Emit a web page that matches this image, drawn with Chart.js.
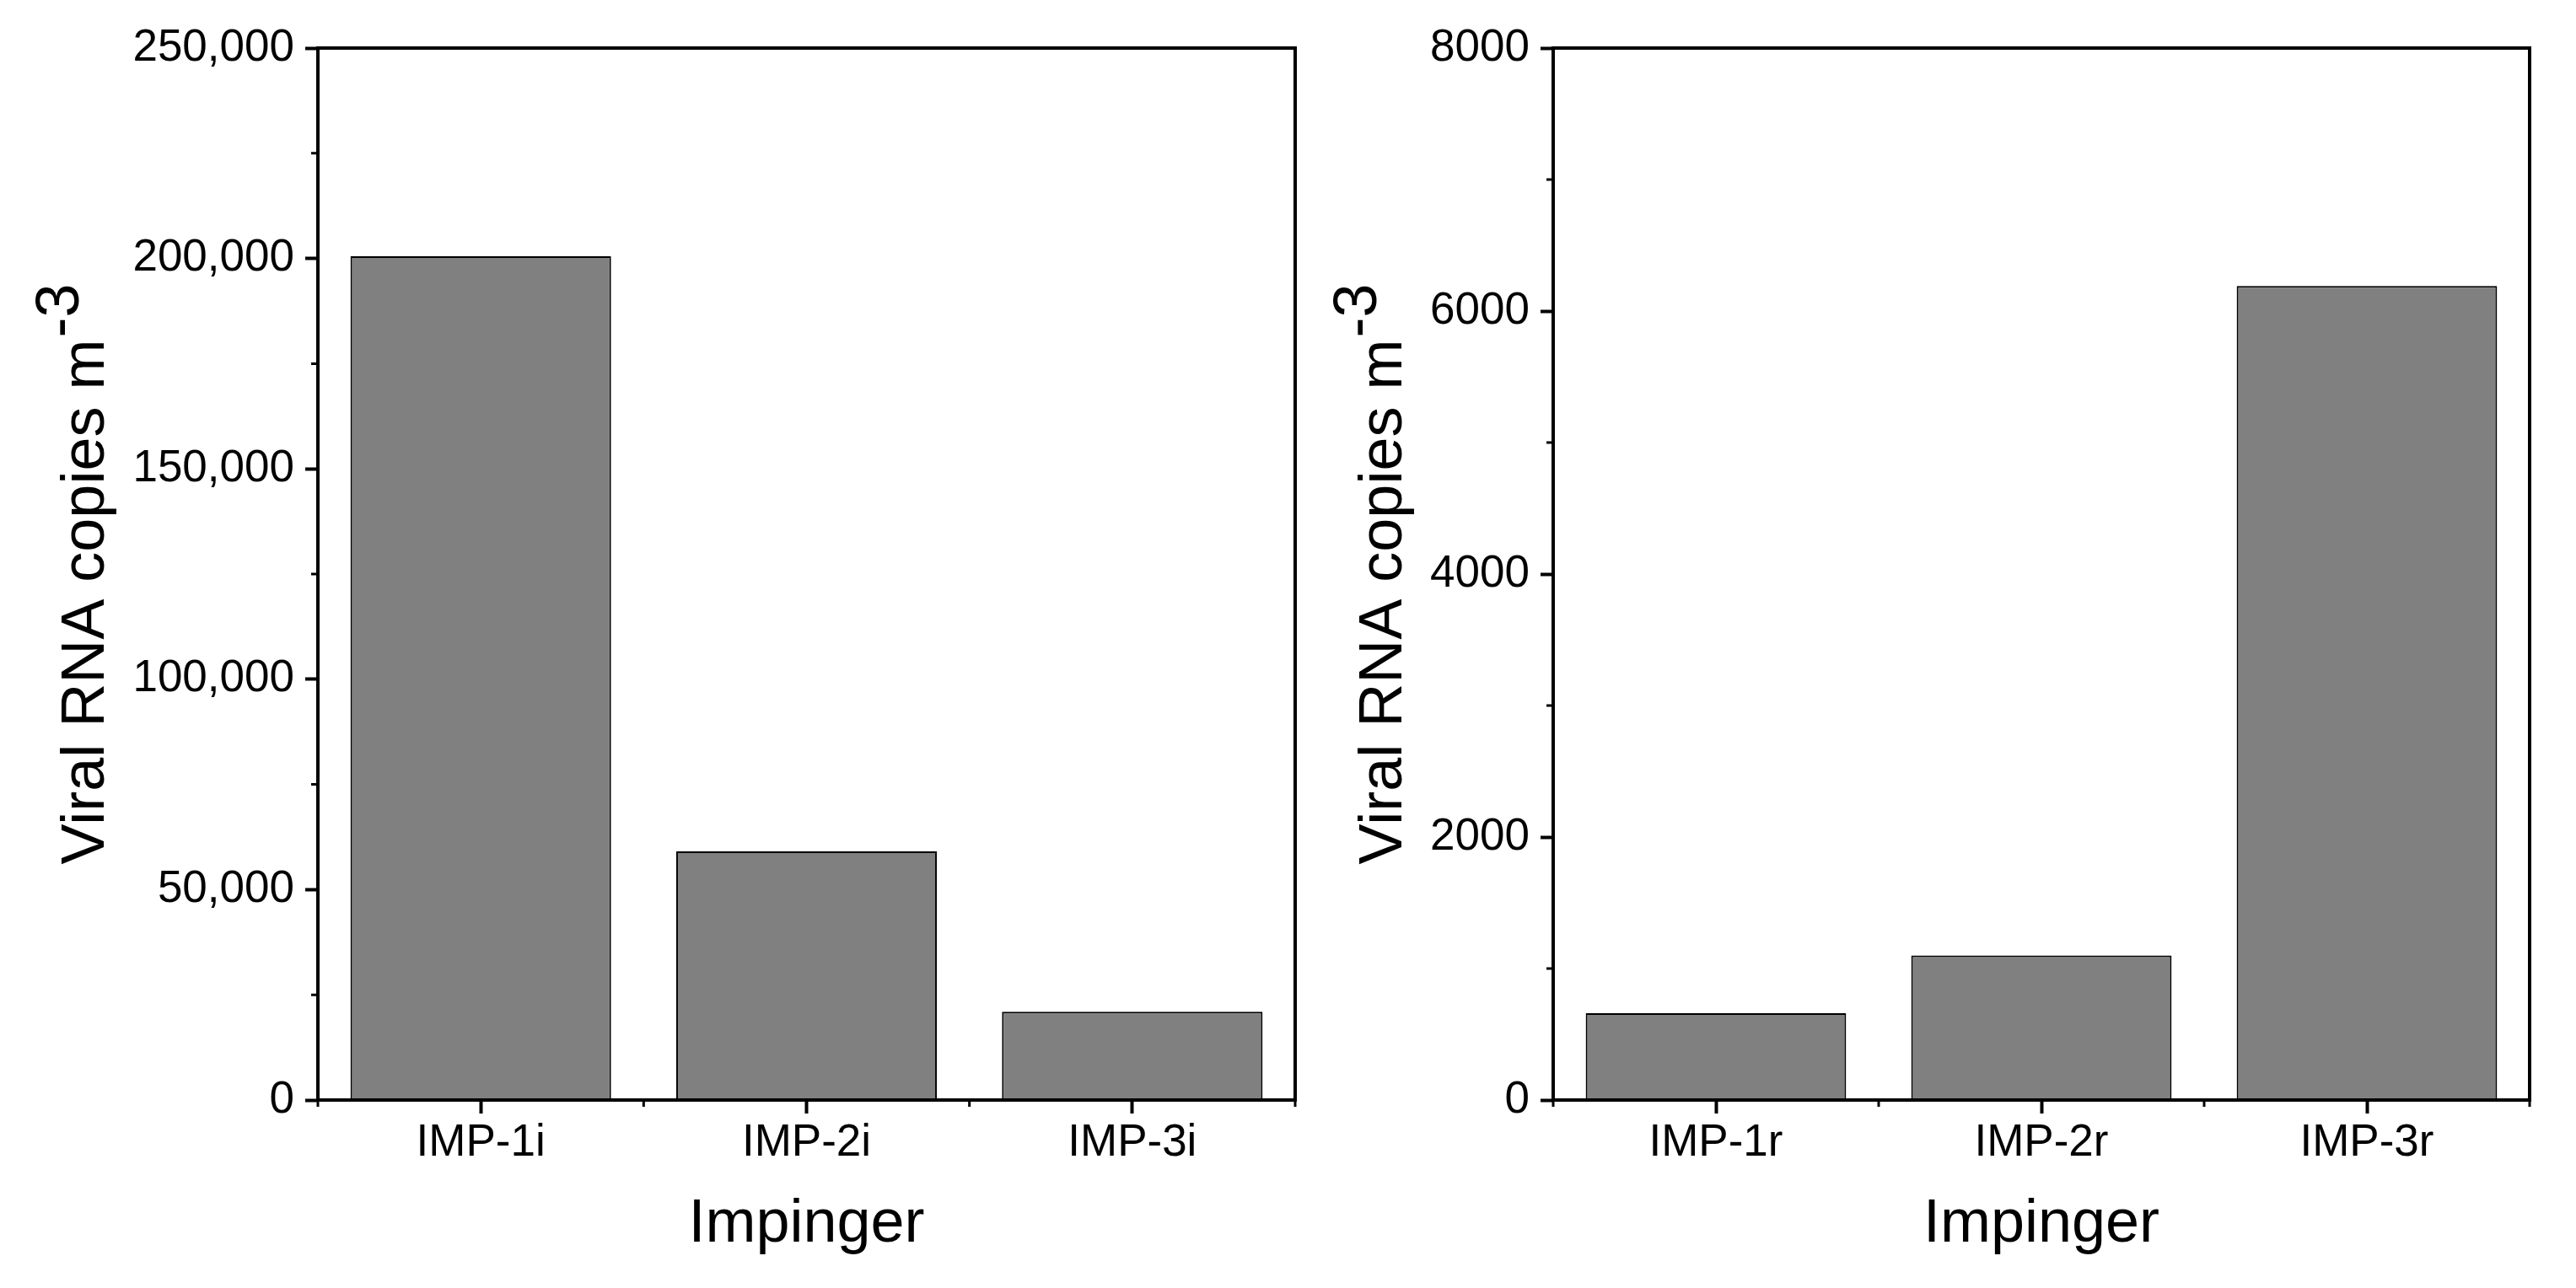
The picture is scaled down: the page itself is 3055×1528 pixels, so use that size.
<!DOCTYPE html>
<html>
<head>
<meta charset="utf-8">
<script src="https://cdn.jsdelivr.net/npm/chart.js@4.4.1/dist/chart.umd.min.js"></script>
<style>
  body { margin: 0; background: #fff; }
  canvas { position: absolute; top: 0; }
</style>
</head>
<body>
<canvas id="leftChart" width="1560" height="1528" style="left:0px"></canvas>
<canvas id="rightChart" width="1495" height="1528" style="left:1560px"></canvas>
<script>
// data
var leftLabels = ['IMP-1i', 'IMP-2i', 'IMP-3i'];
var leftValues = [200500, 59100, 21000];
var leftTicks = [0, 50000, 100000, 150000, 200000, 250000];

var rightLabels = ['IMP-1r', 'IMP-2r', 'IMP-3r'];
var rightValues = [660, 1100, 6190];
var rightTicks = [0, 2000, 4000, 6000, 8000];

var FONT = "'Liberation Sans', Arial, sans-serif";

// frame, minor ticks and the y title with its superscript
var decorations = {
  id: 'decorations',
  afterDraw: function(chart, args, opts) {
    var ctx = chart.ctx;
    var a = chart.chartArea;
    var x = chart.scales.x, y = chart.scales.y;
    ctx.save();
    ctx.strokeStyle = '#000';
    ctx.lineWidth = 4;
    ctx.strokeRect(a.left, a.top, a.right - a.left, a.bottom - a.top);

    // minor ticks on y, half way between the majors
    ctx.lineWidth = 3;
    var step = opts.step;
    ctx.beginPath();
    for (var v = step / 2; v < y.max; v += step) {
      var py = y.getPixelForValue(v);
      ctx.moveTo(a.left - 8, py);
      ctx.lineTo(a.left, py);
    }
    // minor ticks on x, on the category boundaries
    for (var i = 0; i <= x.getLabels().length; i++) {
      var px = x.getPixelForValue(i - 0.5);
      ctx.moveTo(px, a.bottom);
      ctx.lineTo(px, a.bottom + 8);
    }
    ctx.stroke();

    // y title
    ctx.fillStyle = '#000';
    ctx.font = '72px ' + FONT;
    ctx.textBaseline = 'alphabetic';
    ctx.textAlign = 'left';
    var main = 'Viral RNA copies m', sup = '-3';
    var w1 = ctx.measureText(main).width, w2 = ctx.measureText(sup).width;
    var gap = 2;
    var total = w1 + gap + w2;
    ctx.translate(opts.titleX, (a.top + a.bottom) / 2);
    ctx.rotate(-Math.PI / 2);
    ctx.fillText(main, -total / 2, 0);
    ctx.fillText(sup, -total / 2 + w1 + gap, -30);
    ctx.restore();
  }
};

function makeChart(id, labels, values, ticks, fmt, yWidth, rightPad, titleX) {
  var step = ticks[1] - ticks[0];
  return new Chart(document.getElementById(id).getContext('2d'), {
    type: 'bar',
    data: {
      labels: labels,
      datasets: [{
        data: values,
        backgroundColor: '#808080',
        borderColor: '#000',
        borderWidth: 2,
        barPercentage: 0.8,
        categoryPercentage: 1.0
      }]
    },
    options: {
      responsive: false,
      animation: false,
      layout: { padding: { top: 57, right: rightPad, left: 0, bottom: 0 } },
      plugins: {
        legend: { display: false },
        tooltip: { enabled: false },
        decorations: { step: step, titleX: titleX }
      },
      scales: {
        x: {
          grid: { drawOnChartArea: false, offset: false, tickLength: 16, tickWidth: 4, tickColor: '#000' },
          border: { display: false },
          ticks: { color: '#000', font: { family: FONT, size: 53 }, padding: 4, maxRotation: 0 },
          title: { display: true, text: 'Impinger', color: '#000', font: { family: FONT, size: 72 }, padding: { top: 0, bottom: 32 } },
          afterFit: function(s) { s.height = 223; }
        },
        y: {
          min: ticks[0],
          max: ticks[ticks.length - 1],
          afterBuildTicks: function(s) { s.ticks = ticks.map(function(v) { return { value: v }; }); },
          grid: { drawOnChartArea: false, tickLength: 15, tickWidth: 4, tickColor: '#000' },
          border: { display: false },
          ticks: { color: '#000', font: { family: FONT, size: 53 }, padding: 13, callback: fmt },
          afterFit: function(s) { s.width = yWidth; }
        }
      }
    },
    plugins: [decorations]
  });
}

makeChart('leftChart', leftLabels, leftValues, leftTicks,
  function(v) { return Number(v).toLocaleString('en-US'); }, 377, 24, 123);
makeChart('rightChart', rightLabels, rightValues, rightTicks,
  function(v) { return String(v); }, 282, 55, 102);
</script>
</body>
</html>
